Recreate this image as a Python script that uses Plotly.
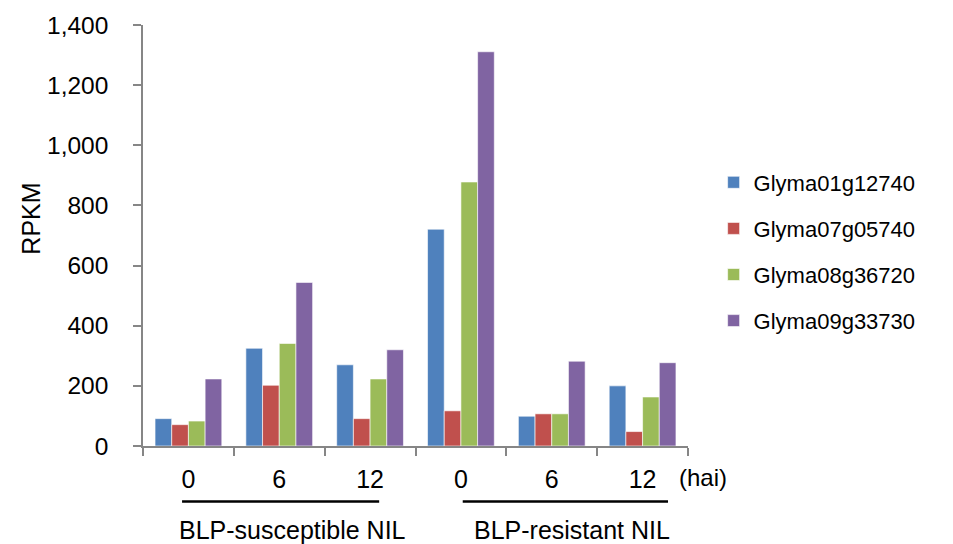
import plotly.graph_objects as go

categories = ["S0", "S6", "S12", "R0", "R6", "R12"]
tick_labels = ["0", "6", "12", "0", "6", "12"]
series_names = ["Glyma01g12740", "Glyma07g05740", "Glyma08g36720", "Glyma09g33730"]
glyma01 = [91, 325, 270, 721, 99, 200]
glyma07 = [71, 202, 91, 117, 107, 48]
glyma08 = [83, 341, 223, 878, 107, 163]
glyma09 = [223, 544, 320, 1311, 282, 277]
group_labels = ["BLP-susceptible NIL", "BLP-resistant NIL"]
colors = ["#4F81BD", "#C0504D", "#9BBB59", "#8064A2"]

FONT = "Liberation Sans, Arial, sans-serif"

fig = go.Figure()
for i, (name, vals) in enumerate(zip(series_names, [glyma01, glyma07, glyma08, glyma09])):
    fig.add_trace(go.Bar(
        x=categories, y=vals, name=name, legendgroup=name,
        marker=dict(color=colors[i], line=dict(color="rgba(255,255,255,0.6)", width=1)),
    ))

fig.update_layout(
    width=953, height=544,
    margin=dict(l=143, r=265, t=22, b=98),
    plot_bgcolor="white", paper_bgcolor="white",
    barmode="group", bargap=0.265, bargroupgap=0,
    font=dict(family=FONT, color="#000000"),
    legend=dict(
        x=1.047, y=0.462, xanchor="left", yanchor="middle",
        font=dict(size=22, family=FONT), tracegroupgap=14.5,
        bgcolor="rgba(0,0,0,0)",
    ),
    xaxis=dict(
        type="category", tickmode="array", tickvals=categories, ticktext=tick_labels,
        tickson="boundaries", ticks="outside", ticklen=8, tickcolor="#868686", tickwidth=1.5,
        showline=True, linecolor="#868686", linewidth=1.5, showgrid=False,
        tickfont=dict(size=25, family=FONT), ticklabelstandoff=10,
        range=[-0.5, 5.5],
    ),
    yaxis=dict(
        range=[0, 1400], dtick=200, tickformat=",", ticks="outside", ticklen=8,
        tickcolor="#868686", tickwidth=1.5, showline=True, linecolor="#868686", linewidth=1.5,
        showgrid=False, zeroline=False, tickfont=dict(size=24.5, family=FONT),
        ticklabelstandoff=20,
    ),
    showlegend=True,
)

fig.add_annotation(text="RPKM", xref="paper", yref="paper", x=-0.2055, y=0.54,
                   xanchor="center", yanchor="middle", textangle=-90, showarrow=False,
                   font=dict(size=25, family=FONT))

fig.add_annotation(text="(hai)", xref="paper", yref="paper", x=0.98, y=-0.0755,
                   xanchor="left", yanchor="middle", showarrow=False,
                   font=dict(size=24, family=FONT))

line_spans = [(-0.07, 2.10), (3.02, 5.28)]
label_x = [1.146, 4.22]
for (x0, x1), lx, lbl in zip(line_spans, label_x, group_labels):
    fig.add_shape(type="line", xref="x", yref="paper", x0=x0, x1=x1, y0=-0.132, y1=-0.132,
                  line=dict(color="black", width=2.5))
    fig.add_annotation(text=lbl, xref="x", yref="paper", x=lx, y=-0.2005,
                       xanchor="center", yanchor="middle", showarrow=False,
                       font=dict(size=25, family=FONT))

fig.write_html("out.html", config={"displayModeBar": False},
               post_script="document.body.style.margin='0';document.body.style.padding='0';")
